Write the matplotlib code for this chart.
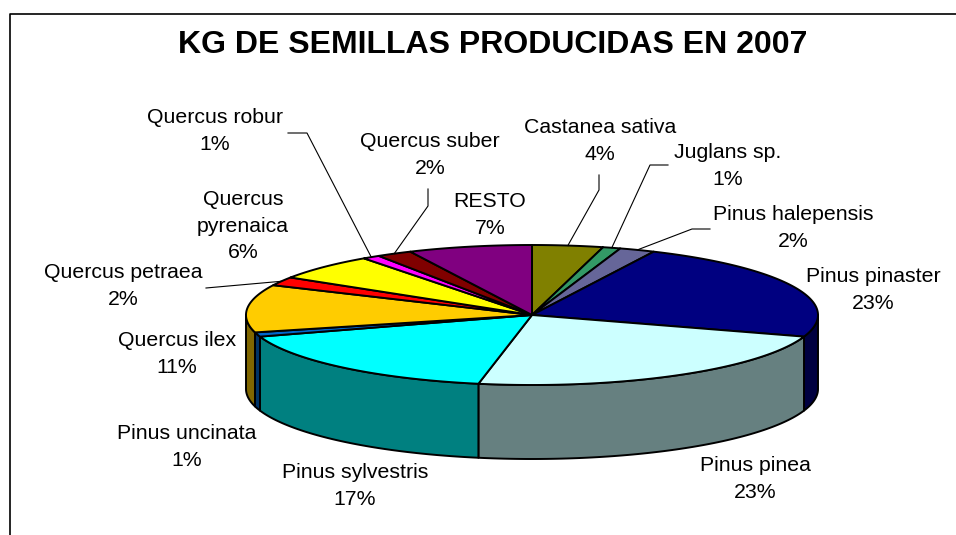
import matplotlib.pyplot as plt
from matplotlib.patches import Polygon
import numpy as np

plt.rcParams['font.family'] = ['Liberation Sans', 'DejaVu Sans']

# datos: kg de semillas (%) por especie, en orden horario desde las 12
especies = ["Castanea sativa", "Juglans sp.", "Pinus halepensis", "Pinus pinaster",
            "Pinus pinea", "Pinus sylvestris", "Pinus uncinata", "Quercus ilex",
            "Quercus petraea", "Quercus\npyrenaica", "Quercus robur", "Quercus suber",
            "RESTO"]
porcentajes = [4, 1, 2, 23, 23, 17, 1, 11, 2, 6, 1, 2, 7]
colores = ["#808000", "#339966", "#666699", "#000080", "#CCFFFF", "#00FFFF",
           "#0066CC", "#FFCC00", "#FF0000", "#FFFF00", "#FF00FF", "#800000", "#800080"]

# posicion de las etiquetas (pixeles)
pos_etiquetas = [(600, 141), (728, 166), (793, 228), (873, 290), (755, 479),
                 (355, 486), (187, 447), (177, 354), (123, 286), (243, 226),
                 (215, 131), (430, 155), (490, 215)]
# lineas guia: puntos de inicio (indice de sector -> puntos)
guias = {0: [(599, 175), (599, 190)], 1: [(668, 165), (650, 165)],
         2: [(710, 229), (692, 229)], 8: [(206, 288)],
         10: [(288, 133), (307, 133)], 11: [(428, 189), (428, 206)]}

W, H = 956, 535
fig = plt.figure(figsize=(W / 100, H / 100), dpi=100)
ax = fig.add_axes([0, 0, 1, 1])
ax.set_xlim(0, W)
ax.set_ylim(H, 0)
ax.axis('off')

# marco
ax.plot([10.5, 10.5, W + 5], [H + 5, 13.5, 13.5], color='black', lw=1.2)

cx, cy, rx, ry, depth = 532, 315, 286, 70, 74


def punto(t):
    t = np.radians(t)
    return cx + rx * np.sin(t), cy - ry * np.cos(t)


total = sum(porcentajes)
angulos = np.cumsum([0] + porcentajes) / total * 360

def oscurecer(c):
    r, g, b = [int(c[i:i + 2], 16) / 255 for i in (1, 3, 5)]
    return (r * 0.5, g * 0.5, b * 0.5)

# caras laterales (mitad frontal)
for i, c in enumerate(colores):
    a, b = max(angulos[i], 90), min(angulos[i + 1], 270)
    if b <= a:
        continue
    t = np.linspace(a, b, 80)
    xs, ys = punto(t)
    pts = list(zip(xs, ys)) + list(zip(xs[::-1], ys[::-1] + depth))
    ax.add_patch(Polygon(pts, closed=True, facecolor=oscurecer(c),
                         edgecolor='black', lw=1.4, joinstyle='round'))

# cara superior
for i, c in enumerate(colores):
    t = np.linspace(angulos[i], angulos[i + 1], 100)
    xs, ys = punto(t)
    pts = [(cx, cy)] + list(zip(xs, ys))
    ax.add_patch(Polygon(pts, closed=True, facecolor=c, edgecolor='black',
                         lw=1.4, joinstyle='round'))

# lineas guia
for i, inicio in guias.items():
    fin = punto((angulos[i] + angulos[i + 1]) / 2)
    xs = [p[0] for p in inicio] + [fin[0]]
    ys = [p[1] for p in inicio] + [fin[1]]
    ax.plot(xs, ys, color='black', lw=0.8)

# etiquetas
for nombre, p, (x, y) in zip(especies, porcentajes, pos_etiquetas):
    ax.text(x, y, f"{nombre}\n{p}%", ha='center', va='center', fontsize=15.3,
            linespacing=1.48)

ax.text(493, 45, "KG DE SEMILLAS PRODUCIDAS EN 2007", ha='center', va='center',
        fontsize=23, fontweight='bold')

fig.savefig("out.png", dpi=100)
